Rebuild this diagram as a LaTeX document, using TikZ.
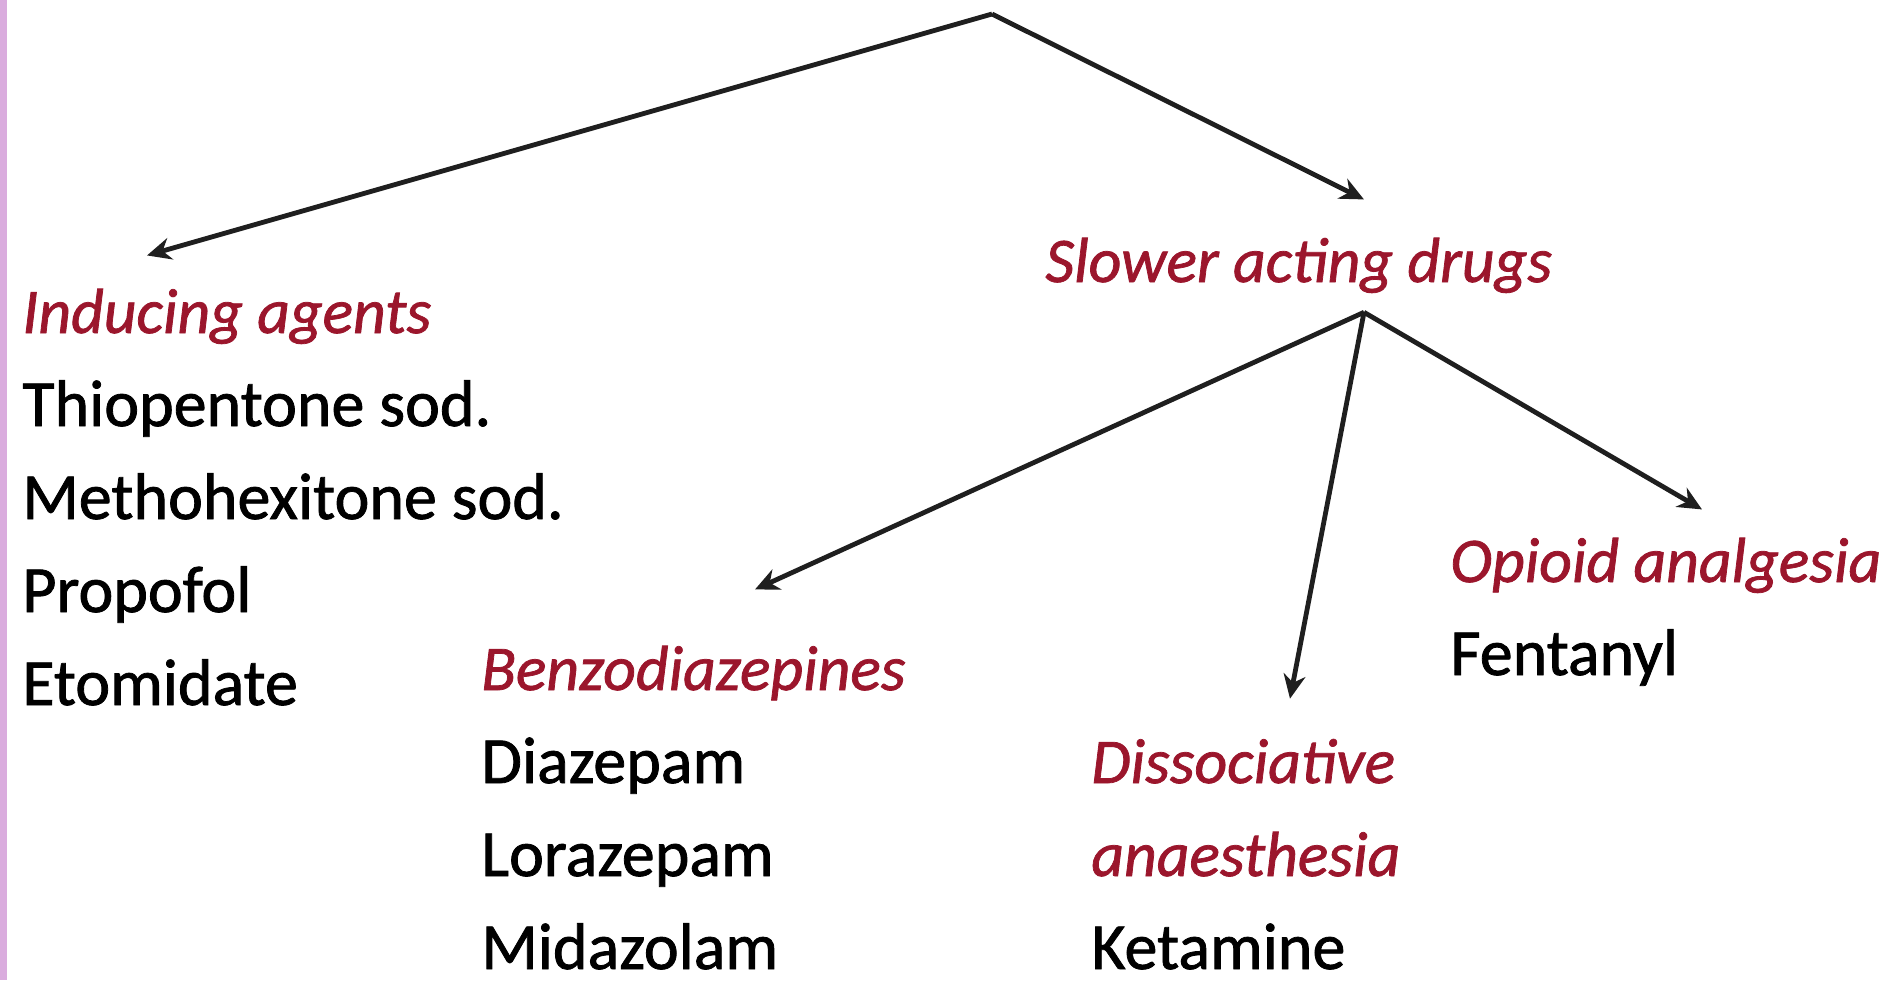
\documentclass[tikz,border=0pt]{standalone}
\usepackage{fontspec}
\setmainfont{Carlito}[FakeBold=1.2]
\usetikzlibrary{arrows.meta}
\definecolor{hdred}{RGB}{155,22,44}
\definecolor{strip}{RGB}{218,172,222}
\newcommand{\hd}[1]{\textcolor{hdred}{\fontsize{31.8}{46.5}\selectfont\itshape #1}}

\begin{document}
\begin{tikzpicture}[x=0.5pt,y=-0.5pt,>={Stealth[length=12pt,width=11pt]},
grp/.style={inner sep=0pt,align=left,anchor=base west,font=\fontsize{33}{46.5}\selectfont},
link/.style={->,line width=2.4pt,black!88}]
\useasboundingbox (0,0) rectangle (1884,980);
\fill[strip] (0,0) rectangle (7,980);
% root label is cut off at the top
\coordinate (root) at (992,14);
% groups are placed by the baseline of their last line
\node[grp] (ind) at (22,705) {\hd{Inducing agents}\\Thiopentone sod.\\Methohexitone sod.\\Propofol\\Etomidate};
\node[grp] (slow) at (1045,282) {\hd{Slower acting drugs}};
\node[grp] (benz) at (481,969) {\hd{Benzodiazepines}\\Diazepam\\Lorazepam\\Midazolam};
\node[grp] (diss) at (1091,969) {\hd{Dissociative}\\\hd{anaesthesia}\\Ketamine};
\node[grp] (opi) at (1450,675) {\hd{Opioid analgesia}\\Fentanyl};
\coordinate (fork) at ([shift={(319,19)}]slow.south west);
\draw[link] (root)--([shift={(125,-33)}]ind.north west);
\draw[link] (root)--([shift={(319,-38)}]slow.north west);
\draw[link] (fork)--([shift={(274,-56)}]benz.north west);
\draw[link] (fork)--([shift={(199,-40)}]diss.north west);
\draw[link] (fork)--([shift={(252,-28)}]opi.north west);
\end{tikzpicture}
\end{document}
